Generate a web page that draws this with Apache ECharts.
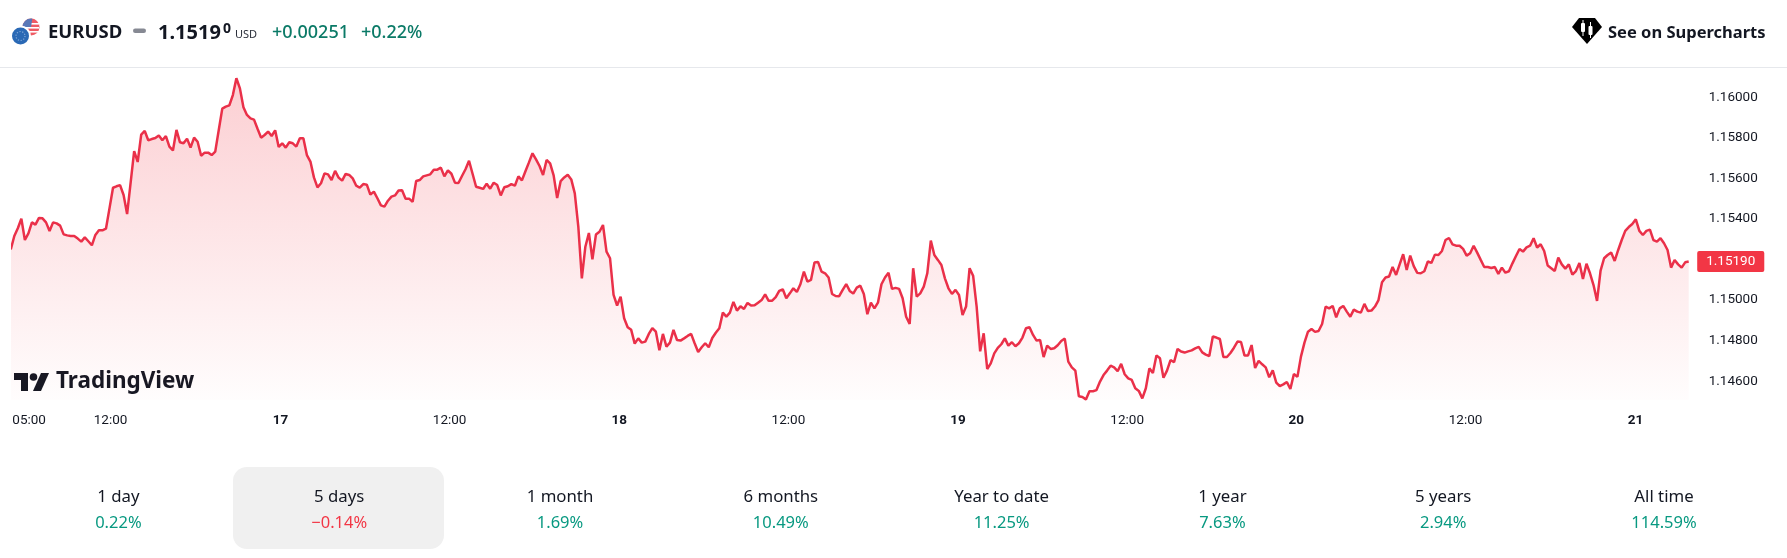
<!DOCTYPE html>
<html>
<head>
<meta charset="utf-8">
<script src="https://cdn.jsdelivr.net/npm/echarts@6/dist/echarts.min.js"></script>
<style>html,body{margin:0;padding:0;background:#fff}#c{width:1787px;height:558px}</style>
</head>
<body>
<div id="c"></div>
<script>
// 15-minute closes, one per bar, starting 05:00 on the 16th
const prices = [
1.15250,1.15316,1.15354,1.15401,1.15296,1.15329,1.15383,1.15372,1.15405,1.15403,
1.15383,1.15341,1.15383,1.15378,1.15367,1.15324,1.15319,1.15316,1.15316,1.15303,
1.15288,1.15309,1.15290,1.15270,1.15321,1.15344,1.15344,1.15352,1.15452,1.15554,
1.15561,1.15567,1.15518,1.15424,1.15579,1.15734,1.15681,1.15816,1.15834,1.15788,
1.15794,1.15799,1.15812,1.15788,1.15809,1.15757,1.15738,1.15839,1.15778,1.15773,
1.15796,1.15752,1.15801,1.15781,1.15712,1.15727,1.15727,1.15715,1.15732,1.15839,
1.15944,1.15954,1.15960,1.16011,1.16094,1.16044,1.15951,1.15913,1.15896,1.15890,
1.15845,1.15801,1.15814,1.15831,1.15809,1.15837,1.15755,1.15773,1.15752,1.15778,
1.15773,1.15757,1.15798,1.15798,1.15715,1.15683,1.15605,1.15556,1.15576,1.15625,
1.15620,1.15592,1.15637,1.15604,1.15589,1.15622,1.15617,1.15600,1.15564,1.15554,
1.15572,1.15569,1.15520,1.15535,1.15502,1.15467,1.15461,1.15490,1.15510,1.15516,
1.15540,1.15541,1.15500,1.15500,1.15484,1.15587,1.15592,1.15610,1.15615,1.15620,
1.15643,1.15643,1.15653,1.15610,1.15640,1.15623,1.15579,1.15577,1.15612,1.15645,
1.15687,1.15623,1.15559,1.15554,1.15548,1.15574,1.15549,1.15579,1.15567,1.15516,
1.15556,1.15561,1.15572,1.15564,1.15610,1.15590,1.15635,1.15679,1.15724,1.15694,
1.15661,1.15617,1.15691,1.15674,1.15615,1.15503,1.15587,1.15605,1.15618,1.15595,
1.15526,1.15362,1.15107,1.15263,1.15331,1.15201,1.15323,1.15337,1.15370,1.15239,
1.15206,1.15025,1.14973,1.15017,1.14910,1.14866,1.14853,1.14785,1.14811,1.14790,
1.14795,1.14833,1.14862,1.14844,1.14752,1.14833,1.14770,1.14790,1.14853,1.14803,
1.14800,1.14811,1.14823,1.14833,1.14787,1.14744,1.14767,1.14787,1.14767,1.14813,
1.14839,1.14861,1.14938,1.14918,1.14938,1.14991,1.14948,1.14969,1.14956,1.14986,
1.14973,1.14974,1.14987,1.15000,1.15028,1.14996,1.14997,1.15014,1.15045,1.15053,
1.15009,1.15033,1.15058,1.15040,1.15078,1.15140,1.15091,1.15099,1.15185,1.15188,
1.15140,1.15132,1.15111,1.15030,1.15020,1.15019,1.15050,1.15079,1.15045,1.15032,
1.15061,1.15071,1.15030,1.14930,1.14987,1.14959,1.14987,1.15078,1.15111,1.15135,
1.15055,1.15060,1.15055,1.15009,1.14918,1.14882,1.15157,1.15017,1.15033,1.15066,
1.15132,1.15293,1.15222,1.15198,1.15173,1.15107,1.15058,1.15030,1.15050,1.15025,
1.14926,1.14968,1.15157,1.15120,1.14968,1.14747,1.14836,1.14660,1.14688,1.14737,
1.14764,1.14782,1.14811,1.14775,1.14792,1.14772,1.14787,1.14815,1.14861,1.14866,
1.14828,1.14800,1.14803,1.14719,1.14775,1.14759,1.14762,1.14777,1.14798,1.14810,
1.14696,1.14668,1.14652,1.14525,1.14522,1.14510,1.14550,1.14550,1.14556,1.14598,
1.14630,1.14652,1.14676,1.14668,1.14649,1.14685,1.14634,1.14614,1.14606,1.14565,
1.14552,1.14515,1.14565,1.14663,1.14640,1.14727,1.14713,1.14617,1.14652,1.14704,
1.14693,1.14759,1.14746,1.14741,1.14747,1.14752,1.14762,1.14769,1.14742,1.14731,
1.14724,1.14820,1.14815,1.14808,1.14719,1.14719,1.14739,1.14765,1.14795,1.14793,
1.14726,1.14727,1.14778,1.14665,1.14700,1.14683,1.14668,1.14619,1.14653,1.14593,
1.14575,1.14584,1.14596,1.14561,1.14635,1.14621,1.14721,1.14790,1.14844,1.14857,
1.14843,1.14847,1.14882,1.14967,1.14959,1.14971,1.14915,1.14959,1.14971,1.14943,
1.14918,1.14953,1.14943,1.14938,1.14981,1.14946,1.14948,1.14968,1.15000,1.15088,
1.15111,1.15116,1.15163,1.15124,1.15176,1.15226,1.15148,1.15219,1.15167,1.15134,
1.15132,1.15142,1.15190,1.15183,1.15224,1.15222,1.15242,1.15296,1.15306,1.15275,
1.15268,1.15268,1.15252,1.15219,1.15231,1.15268,1.15234,1.15198,1.15163,1.15163,
1.15158,1.15163,1.15129,1.15160,1.15135,1.15142,1.15181,1.15217,1.15252,1.15239,
1.15260,1.15268,1.15305,1.15259,1.15275,1.15242,1.15170,1.15157,1.15143,1.15209,
1.15176,1.15155,1.15176,1.15125,1.15143,1.15183,1.15104,1.15179,1.15132,1.15074,
1.14996,1.15145,1.15206,1.15222,1.15234,1.15193,1.15247,1.15296,1.15341,1.15360,
1.15375,1.15398,1.15341,1.15321,1.15341,1.15347,1.15296,1.15288,1.15305,1.15280,
1.15247,1.15160,1.15198,1.15176,1.15160,1.15186,1.15190
];
const timeTickBars = [0.43,28.3,76.5,124.5,172.6,220.6,268.7,316.7,364.7,412.7,460.9];
const timeTickText = ["05:00","12:00","17","12:00","18","12:00","19","12:00","20","12:00","21"];
const dayTicks = ["17","18","19","20","21"];
const priceTicks = [1.146,1.148,1.150,1.154,1.156,1.158,1.160];
const tabNames = ["1 day","5 days","1 month","6 months","Year to date","1 year","5 years","All time"];
const tabChanges = ["0.22%","\u22120.14%","1.69%","10.49%","11.25%","7.63%","2.94%","114.59%"];

const RED = '#f23645', GREEN = '#089981', INK = '#131722';
const FONT = '"Noto Sans", sans-serif';
const AXISFONT = 'Roboto, sans-serif';

const chart = echarts.init(document.getElementById('c'), null, {renderer:'canvas'});

const text = (x, y, t, size, fill, weight, align, family) => ({
  type:'text', x, y, silent:true,
  style:{text:t, font:`${weight||400} ${size}px ${family||FONT}`, fill, align:align||'left', verticalAlign:'middle'}
});

const graphics = [
  {type:'rect', shape:{x:0,y:67,width:1787,height:1}, style:{fill:'#e6e8ec'}, silent:true},
  // flag pair
  {type:'circle', shape:{cx:31,cy:27,r:8.5}, style:{fill:'#ee5b64'}},
  {type:'rect', shape:{x:24,y:23,width:15,height:1.6}, style:{fill:'#fff'}},
  {type:'rect', shape:{x:24,y:27,width:15,height:1.6}, style:{fill:'#fff'}},
  {type:'rect', shape:{x:24,y:31,width:15,height:1.6}, style:{fill:'#fff'}},
  {type:'sector', shape:{cx:31,cy:27,r:8.5,r0:0,startAngle:Math.PI,endAngle:Math.PI*1.55}, style:{fill:'#5a78b8'}},
  {type:'circle', shape:{cx:20.5,cy:36,r:10.5}, style:{fill:'#fff'}},
  {type:'circle', shape:{cx:20.5,cy:36,r:8.5}, style:{fill:'#2a69b5'}},
  {type:'circle', shape:{cx:20.5,cy:36,r:4.5}, style:{fill:'none', stroke:'#7fa6d6', lineWidth:1.2, lineDash:[1.2,1.6]}},
  // header texts
  text(48,33,'EURUSD',18.5,INK,700),
  {type:'rect', shape:{x:133,y:28.5,width:13,height:4.5,r:2.2}, style:{fill:'#868993'}},
  text(158,33,'1.1519',20,INK,700),
  text(223,29,'0',14,INK,700),
  text(235,35,'USD',11,'#2a2e39',400),
  text(272,33,'+0.00251',18,'#0b7a67',500),
  text(361,33,'+0.22%',18,'#0b7a67',500),
  // supercharts icon
  {type:'polygon', shape:{points:[[1579,18],[1595,18],[1602,27],[1587,44],[1572,27]]}, style:{fill:'#000'}},
  {type:'rect', shape:{x:1581,y:23,width:4,height:9,r:1}, style:{fill:'#fff'}},
  {type:'rect', shape:{x:1588.5,y:26,width:4,height:9,r:1}, style:{fill:'#fff'}},
  {type:'rect', shape:{x:1582.5,y:20,width:1,height:16}, style:{fill:'#fff'}},
  {type:'rect', shape:{x:1590,y:22,width:1,height:16}, style:{fill:'#fff'}},
  text(1608,33,'See on Supercharts',16.5,INK,700),
  // TradingView logo
  {type:'polygon', shape:{points:[[14,373],[28,373],[28,391],[21,391],[21,380],[14,380]]}, style:{fill:INK}},
  {type:'polygon', shape:{points:[[41,373],[49,373],[41,391],[33,391]]}, style:{fill:INK}},
  {type:'circle', shape:{cx:33.5,cy:377,r:3.8}, style:{fill:INK}},
  text(56,382,'TradingView',22.5,INK,700),
  // selected tab
  {type:'rect', shape:{x:233,y:467,width:211,height:82,r:14}, style:{fill:'#f0f0f0'}}
];
tabNames.forEach((n,i)=>{
  const cx = 118.4 + i*220.8;
  graphics.push(text(cx,497,n,16.8,INK,400,'center'));
  graphics.push(text(cx,523,tabChanges[i],16.5,tabChanges[i][0]==='\u2212'?RED:GREEN,400,'center'));
});

chart.setOption({
  animation:false,
  backgroundColor:'#ffffff',
  grid:{left:12.3, top:68, width:1676.4, height:332, containLabel:false},
  xAxis:{
    type:'value', min:0.43, max:476,
    axisLine:{show:false}, axisTick:{show:false}, splitLine:{show:false},
    axisLabel:{
      customValues:timeTickBars, margin:14, alignMinLabel:'left',
      hideOverlap:false,
      formatter:v=>{
        const t = timeTickText[timeTickBars.indexOf(v)];
        return dayTicks.includes(t) ? `{b|${t}}` : `{n|${t}}`;
      },
      rich:{
        b:{fontWeight:700, fontSize:13.5, fontFamily:AXISFONT, color:INK},
        n:{fontWeight:400, fontSize:13.5, fontFamily:AXISFONT, color:INK}
      }
    }
  },
  yAxis:{
    type:'value', position:'right', min:1.14507, max:1.161445, scale:true,
    axisLine:{show:false}, axisTick:{show:false}, splitLine:{show:false},
    axisLabel:{
      customValues:priceTicks, margin:20, color:INK,
      fontSize:13.5, fontFamily:AXISFONT, padding:[3,0,0,0],
      formatter:v=>v.toFixed(5)
    }
  },
  series:[{
    type:'line', showSymbol:false, smooth:false, clip:true,
    data:prices.map((p,i)=>[i,p]),
    lineStyle:{color:'#ea3049', width:2.5},
    itemStyle:{color:RED},
    areaStyle:{color:{type:'linear',x:0,y:0,x2:0,y2:1,colorStops:[
      {offset:0,color:'rgba(242,54,69,0.34)'},
      {offset:1,color:'rgba(242,54,69,0.015)'}
    ]}},
    endLabel:{
      show:true, distance:8.5, color:'#fff', backgroundColor:RED, borderRadius:2,
      fontFamily:AXISFONT, fontSize:13.5, padding:[4,9,3,9],
      formatter:p=>p.value[1].toFixed(5)
    }
  }],
  graphic:graphics
});
</script>
</body>
</html>
